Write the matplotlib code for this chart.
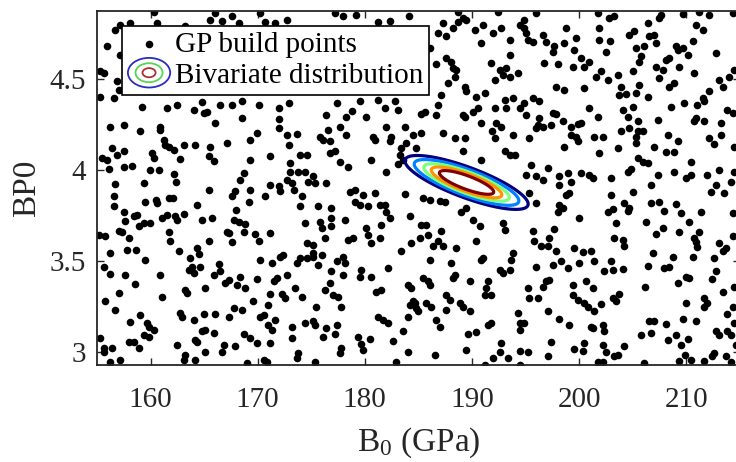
import numpy as np
import matplotlib
matplotlib.use("Agg")
import matplotlib.pyplot as plt
from matplotlib.legend_handler import HandlerBase
from matplotlib.patches import Ellipse
from matplotlib.ticker import FuncFormatter

plt.rcParams["font.family"] = ["Liberation Serif", "DejaVu Serif"]
plt.rcParams["mathtext.fontset"] = "custom"
plt.rcParams["mathtext.rm"] = "Liberation Serif"

# GP build points (B0 in GPa, BP0)
pts_top_left = [
    (160.29, 4.872), (166.04, 4.863), (167.59, 4.845), (170.24, 4.863), (165.57, 4.826),
    (166.66, 4.821), (168.22, 4.808), (170.70, 4.817), (171.64, 4.808), (172.72, 4.826),
    (157.18, 4.799), (158.11, 4.808), (160.60, 4.808), (163.24, 4.790), (156.71, 4.771),
    (155.93, 4.680), (157.18, 4.634), (155.31, 4.543), (155.62, 4.533), (156.87, 4.488),
    (157.02, 4.442), (155.31, 4.405), (156.55, 4.396), (159.20, 4.350), (161.53, 4.341),
    (162.46, 4.356), (164.02, 4.332), (164.79, 4.374), (164.95, 4.314), (165.26, 4.319),
    (166.50, 4.359), (167.59, 4.356), (168.53, 4.378), (170.08, 4.359), (171.95, 4.341),
    (172.88, 4.368), (156.24, 4.240), (157.49, 4.249), (160.91, 4.240), (160.91, 4.220),
    (159.04, 4.213), (166.04, 4.259), (168.53, 4.286), (169.93, 4.204), (171.95, 4.282),
    (171.95, 4.231), (172.72, 4.195), (173.66, 4.198), (161.22, 4.167), (161.37, 4.140),
    (161.69, 4.130), (162.15, 4.112), (163.08, 4.136), (164.17, 4.140), (165.57, 4.125),
    (167.13, 4.149), (169.30, 4.167), (172.88, 4.140), (156.40, 4.121), (156.87, 4.085),
    (157.49, 4.103), (155.47, 4.066), (155.93, 4.057), (160.13, 4.094), (160.29, 4.066),
    (162.77, 4.063), (165.42, 4.081), (165.88, 4.052), (169.30, 4.057), (171.17, 4.081),
    (173.91, 4.085), (174.65, 4.085), (156.09, 4.008), (157.49, 4.020), (158.26, 4.026),
    (159.98, 3.999), (160.81, 3.999), (162.21, 3.978), (162.37, 3.938), (168.68, 3.984),
    (168.37, 3.947), (173.03, 4.039), (173.03, 3.993), (173.72, 3.993), (174.43, 3.989),
    (156.71, 3.925), (159.35, 3.929), (171.17, 3.920), (171.95, 3.916), (172.72, 3.947),
    (173.19, 3.929), (174.74, 3.934),
]

pts_top_mid = [
    (177.20, 4.863), (177.98, 4.845), (179.22, 4.854), (181.24, 4.817), (182.33, 4.821),
    (184.14, 4.845), (188.71, 4.872), (188.71, 4.817), (189.17, 4.836), (189.48, 4.826),
    (191.04, 4.799), (192.44, 4.872), (187.31, 4.808), (186.84, 4.753), (187.62, 4.735),
    (188.24, 4.781), (190.26, 4.771), (191.97, 4.753), (192.75, 4.781), (193.53, 4.716),
    (194.46, 4.799), (186.06, 4.671), (190.88, 4.698), (193.53, 4.634), (191.82, 4.588),
    (187.62, 4.616), (188.09, 4.597), (186.69, 4.583), (188.24, 4.561), (188.55, 4.552),
    (192.59, 4.552), (192.91, 4.524), (193.53, 4.515), (193.22, 4.561), (194.30, 4.533),
    (188.40, 4.515), (192.13, 4.497), (187.77, 4.478), (189.33, 4.460), (189.48, 4.433),
    (190.42, 4.405), (191.19, 4.423), (187.15, 4.411), (186.84, 4.359), (193.06, 4.387),
    (193.84, 4.396), (177.36, 4.369), (179.53, 4.378), (181.24, 4.387), (182.80, 4.378),
    (176.42, 4.304), (178.29, 4.295), (178.85, 4.326), (180.16, 4.290), (181.87, 4.341),
    (183.11, 4.332), (185.29, 4.308), (185.60, 4.319), (186.69, 4.304), (189.17, 4.304),
    (189.33, 4.290), (190.11, 4.319), (190.57, 4.341), (190.88, 4.259), (192.13, 4.341),
    (192.28, 4.259), (191.91, 4.216), (192.75, 4.240), (193.22, 4.341), (194.46, 4.341),
    (177.67, 4.240), (176.58, 4.222), (175.80, 4.185), (176.11, 4.167), (176.74, 4.158),
    (178.29, 4.195), (180.78, 4.185), (180.93, 4.167), (182.02, 4.240), (182.49, 4.185),
    (182.33, 4.158), (183.73, 4.240), (184.51, 4.195), (185.29, 4.204), (187.31, 4.204),
    (188.40, 4.176), (189.33, 4.176), (192.13, 4.176), (193.84, 4.195), (183.89, 4.149),
    (184.82, 4.121), (183.42, 4.121), (183.27, 4.085), (183.58, 4.057), (176.74, 4.094),
    (177.20, 4.103), (177.67, 4.048), (178.45, 4.020), (180.62, 4.057), (182.02, 3.993),
    (183.11, 4.033), (189.17, 4.103), (190.88, 4.057), (193.06, 4.103), (193.53, 4.085),
    (194.00, 4.085), (175.18, 3.966), (175.34, 3.929), (176.42, 3.929),
]

pts_top_right = [
    (195.98, 4.863), (201.74, 4.863), (202.76, 4.839), (203.29, 4.850), (207.64, 4.854),
    (207.49, 4.836), (209.67, 4.858), (211.22, 4.872), (212.15, 4.854), (214.33, 4.863),
    (194.90, 4.826), (194.90, 4.781), (195.05, 4.753), (195.21, 4.716), (195.67, 4.707),
    (196.61, 4.744), (196.92, 4.707), (198.78, 4.781), (197.69, 4.680), (197.54, 4.652),
    (198.63, 4.698), (199.71, 4.726), (199.56, 4.662), (201.89, 4.781), (201.89, 4.716),
    (202.89, 4.711), (202.51, 4.652), (204.69, 4.744), (205.16, 4.766), (205.31, 4.671),
    (206.56, 4.735), (207.02, 4.744), (207.18, 4.698), (206.09, 4.680), (206.40, 4.808),
    (210.91, 4.799), (211.53, 4.771), (210.60, 4.711), (209.04, 4.680), (209.20, 4.662),
    (209.67, 4.671), (210.13, 4.634), (212.77, 4.643), (196.76, 4.588), (198.00, 4.583),
    (199.40, 4.565), (200.18, 4.616), (200.49, 4.565), (200.96, 4.597), (201.58, 4.515),
    (202.05, 4.546), (202.67, 4.497), (203.60, 4.524), (205.00, 4.546), (205.62, 4.597),
    (205.78, 4.625), (207.18, 4.570), (207.49, 4.509), (207.80, 4.552), (208.11, 4.607),
    (208.42, 4.616), (209.35, 4.565), (210.75, 4.533), (197.85, 4.460), (198.63, 4.442),
    (200.49, 4.451), (203.91, 4.460), (203.76, 4.411), (204.38, 4.418), (205.31, 4.423),
    (205.62, 4.469), (206.40, 4.400), (208.42, 4.460), (208.89, 4.478), (213.09, 4.497),
    (213.40, 4.455), (214.02, 4.515), (214.49, 4.552), (212.15, 4.433), (211.53, 4.396),
    (211.69, 4.378), (211.06, 4.359), (209.82, 4.369), (208.58, 4.350), (195.67, 4.396),
    (196.29, 4.381), (194.90, 4.369), (195.05, 4.304), (196.29, 4.286), (196.14, 4.250),
    (195.98, 4.231), (196.61, 4.240), (197.54, 4.314), (197.85, 4.308), (197.38, 4.249),
    (198.47, 4.268), (199.25, 4.240), (199.87, 4.253), (200.18, 4.259), (200.96, 4.341),
    (201.74, 4.295), (204.07, 4.332), (205.00, 4.350), (204.53, 4.295), (205.47, 4.271),
    (207.33, 4.277), (210.91, 4.286), (210.75, 4.268), (211.69, 4.268), (213.24, 4.259),
    (213.86, 4.332), (214.33, 4.314), (195.36, 4.176), (199.25, 4.195), (199.71, 4.185),
    (199.87, 4.162), (201.43, 4.185), (202.20, 4.180), (203.91, 4.213), (204.69, 4.231),
    (205.47, 4.216), (205.93, 4.216), (205.31, 4.185), (205.31, 4.149), (208.27, 4.195),
    (209.20, 4.158), (212.15, 4.176), (212.62, 4.143), (213.24, 4.195), (214.49, 4.130),
    (198.63, 4.130), (201.89, 4.094), (203.60, 4.121), (207.02, 4.130), (208.11, 4.099),
    (208.89, 4.099), (205.47, 4.066), (205.93, 4.048), (206.40, 4.039), (210.44, 4.048),
    (195.52, 4.030), (197.07, 4.011), (195.05, 3.975), (195.98, 3.969), (196.61, 3.947),
    (198.16, 3.966), (198.94, 3.984), (199.25, 3.938), (200.18, 3.984), (200.96, 3.975),
    (201.27, 3.960), (202.98, 3.956), (204.53, 3.993), (204.85, 4.006), (207.33, 3.975),
    (208.89, 3.989), (209.98, 3.956), (210.44, 3.975), (211.99, 3.975), (213.09, 4.002),
    (214.17, 3.938), (206.71, 3.920), (198.16, 3.920), (212.77, 3.920), (214.49, 3.993),
]

pts_bottom_left = [
    (156.55, 3.856), (156.55, 3.801), (159.51, 3.828), (160.53, 3.837), (160.60, 3.819),
    (161.69, 3.847), (162.09, 3.847), (164.33, 3.810), (165.42, 3.892), (167.59, 3.856),
    (167.90, 3.887), (169.30, 3.892), (169.15, 3.828), (170.70, 3.861), (172.04, 3.887),
    (173.35, 3.892), (174.12, 3.861), (173.97, 3.801), (174.43, 3.709), (157.49, 3.770),
    (157.64, 3.722), (158.42, 3.746), (158.73, 3.755), (158.89, 3.691), (159.35, 3.709),
    (159.98, 3.709), (161.06, 3.737), (161.53, 3.755), (162.31, 3.746), (162.46, 3.728),
    (163.15, 3.759), (164.79, 3.728), (165.73, 3.740), (168.00, 3.782), (167.75, 3.728),
    (168.22, 3.718), (168.84, 3.704), (167.13, 3.663), (167.28, 3.654), (168.68, 3.663),
    (169.77, 3.649), (170.17, 3.612), (171.11, 3.654), (155.16, 3.645), (155.78, 3.636),
    (157.02, 3.667), (157.33, 3.660), (157.95, 3.630), (161.69, 3.658), (161.84, 3.612),
    (165.42, 3.612), (167.59, 3.603), (174.59, 3.599), (157.80, 3.563), (158.67, 3.563),
    (156.24, 3.544), (159.51, 3.508), (162.62, 3.554), (164.33, 3.572), (164.48, 3.539),
    (163.71, 3.517), (163.86, 3.471), (163.55, 3.453), (164.02, 3.434), (164.64, 3.471),
    (155.62, 3.466), (156.24, 3.429), (157.64, 3.422), (158.58, 3.376), (160.91, 3.422),
    (166.35, 3.484), (166.50, 3.444), (165.88, 3.422), (166.97, 3.380), (167.28, 3.398),
    (168.37, 3.411), (168.06, 3.370), (168.84, 3.352), (169.93, 3.403), (170.24, 3.508),
    (171.32, 3.489), (172.10, 3.526), (172.41, 3.535), (173.66, 3.489), (173.97, 3.517),
    (174.59, 3.517), (171.79, 3.407), (171.48, 3.389), (172.72, 3.422), (157.02, 3.325),
    (155.78, 3.282), (156.71, 3.233), (161.06, 3.301), (163.24, 3.343), (163.40, 3.325),
    (165.11, 3.352), (169.61, 3.279), (171.17, 3.319), (171.01, 3.260), (172.26, 3.319),
    (172.57, 3.297), (173.50, 3.352), (174.12, 3.306), (168.53, 3.233), (167.75, 3.242),
    (167.28, 3.196), (166.04, 3.209), (164.95, 3.209), (162.77, 3.215), (162.93, 3.196),
    (164.02, 3.178), (159.04, 3.202), (158.11, 3.165), (159.66, 3.160), (159.82, 3.141),
    (160.29, 3.123), (159.35, 3.096), (159.82, 3.086), (157.95, 3.059), (158.42, 3.059),
    (158.89, 3.022), (155.31, 3.077), (155.62, 3.022), (155.62, 3.004), (156.40, 3.026),
    (162.46, 3.041), (164.17, 3.068), (164.33, 3.059), (164.79, 3.114), (165.11, 3.123),
    (165.88, 3.105), (168.68, 3.100), (169.30, 3.077), (169.93, 3.050), (170.24, 3.196),
    (170.55, 3.202), (171.01, 3.151), (171.32, 3.123), (171.64, 3.178), (171.17, 3.050),
    (173.19, 3.141), (173.19, 3.077), (174.43, 3.160), (166.82, 3.041), (166.66, 3.004),
    (167.90, 3.032), (165.11, 3.004), (163.24, 2.986), (163.08, 2.958), (164.17, 2.958),
    (156.24, 2.949), (157.18, 2.955), (168.99, 2.940), (170.55, 2.958), (170.86, 2.949),
    (173.66, 2.971), (173.81, 2.995),
]

pts_bottom_mid = [
    (178.60, 3.883), (179.07, 3.892), (179.85, 3.865), (180.93, 3.874), (179.07, 3.828),
    (179.53, 3.810), (180.31, 3.801), (181.40, 3.810), (181.87, 3.810), (182.02, 3.773),
    (182.33, 3.740), (183.73, 3.869), (185.44, 3.847), (186.06, 3.837), (187.00, 3.832),
    (187.46, 3.828), (189.02, 3.773), (189.48, 3.792), (190.11, 3.728), (190.73, 3.691),
    (192.91, 3.709), (193.06, 3.673), (175.65, 3.801), (176.89, 3.792), (176.89, 3.737),
    (176.89, 3.691), (175.80, 3.718), (175.96, 3.682), (178.13, 3.728), (180.16, 3.682),
    (180.31, 3.645), (181.56, 3.700), (180.62, 3.599), (181.40, 3.627), (176.27, 3.627),
    (178.45, 3.618), (178.91, 3.627), (184.20, 3.746), (185.29, 3.700), (185.75, 3.700),
    (187.15, 3.667), (185.13, 3.627), (185.91, 3.645), (186.84, 3.609), (187.31, 3.586),
    (186.37, 3.581), (188.55, 3.575), (190.42, 3.609), (184.35, 3.599), (183.42, 3.554),
    (175.18, 3.590), (175.18, 3.544), (175.18, 3.526), (175.96, 3.535), (175.65, 3.480),
    (177.36, 3.499), (177.98, 3.521), (178.13, 3.489), (176.89, 3.444), (177.98, 3.422),
    (179.69, 3.453), (179.53, 3.416), (180.62, 3.411), (182.18, 3.462), (186.06, 3.508),
    (188.09, 3.489), (188.40, 3.425), (188.24, 3.407), (185.44, 3.407), (185.91, 3.389),
    (186.06, 3.367), (184.04, 3.370), (184.35, 3.352), (189.80, 3.389), (191.04, 3.517),
    (190.88, 3.508), (192.59, 3.453), (192.91, 3.434), (193.53, 3.453), (193.84, 3.544),
    (193.68, 3.508), (191.51, 3.389), (191.35, 3.352), (191.19, 3.315), (191.82, 3.315),
    (176.74, 3.380), (176.27, 3.343), (177.05, 3.312), (177.51, 3.306), (181.09, 3.330),
    (181.56, 3.343), (175.43, 3.251), (177.82, 3.246), (184.20, 3.260), (184.66, 3.270),
    (184.82, 3.242), (184.98, 3.224), (184.51, 3.279), (185.75, 3.270), (186.22, 3.251),
    (187.62, 3.315), (187.93, 3.288), (187.62, 3.233), (188.86, 3.270), (189.17, 3.251),
    (189.80, 3.224), (194.30, 3.215), (194.46, 3.160), (181.24, 3.196), (181.71, 3.178),
    (182.18, 3.160), (184.04, 3.196), (186.69, 3.178), (187.00, 3.136), (175.18, 3.169),
    (175.34, 3.151), (176.42, 3.132), (177.36, 3.151), (176.11, 3.086), (177.20, 3.099),
    (183.58, 3.114), (189.64, 3.099), (190.42, 3.110), (191.51, 3.151), (191.82, 3.160),
    (194.46, 3.123), (179.38, 3.086), (180.47, 3.074), (179.69, 3.044), (179.85, 3.013),
    (182.64, 3.063), (177.82, 3.022), (177.67, 2.995), (189.48, 3.013), (184.04, 3.004),
    (186.53, 2.986), (192.75, 3.050), (192.59, 3.004), (191.97, 2.967), (193.37, 2.967),
    (194.46, 3.008), (175.34, 2.949), (182.95, 2.949), (191.19, 2.931), (194.46, 2.931),
]

pts_bottom_right = [
    (195.36, 3.874), (195.98, 3.819), (198.78, 3.865), (199.09, 3.874), (198.16, 3.810),
    (198.00, 3.773), (198.47, 3.792), (200.03, 3.740), (202.98, 3.865), (205.00, 3.880),
    (202.67, 3.770), (203.14, 3.788), (204.22, 3.819), (204.69, 3.792), (204.53, 3.777),
    (206.71, 3.819), (207.49, 3.828), (207.96, 3.777), (209.04, 3.814), (209.51, 3.764),
    (211.38, 3.770), (212.31, 3.880), (213.55, 3.874), (214.33, 3.764), (195.67, 3.667),
    (195.83, 3.609), (196.45, 3.581), (197.23, 3.627), (197.69, 3.678), (197.07, 3.586),
    (197.85, 3.557), (199.56, 3.575), (200.34, 3.553), (201.11, 3.557), (203.45, 3.709),
    (203.29, 3.627), (204.07, 3.618), (204.22, 3.581), (206.25, 3.718), (207.18, 3.649),
    (207.80, 3.685), (209.35, 3.660), (210.29, 3.715), (211.22, 3.660), (210.75, 3.630),
    (210.91, 3.608), (211.06, 3.576), (213.09, 3.599), (213.40, 3.554), (213.71, 3.572),
    (214.33, 3.636), (195.98, 3.466), (197.54, 3.480), (198.32, 3.502), (198.94, 3.462),
    (200.03, 3.489), (201.43, 3.499), (202.36, 3.447), (202.98, 3.502), (203.14, 3.453),
    (204.07, 3.458), (206.40, 3.475), (206.87, 3.544), (207.96, 3.462), (208.42, 3.466),
    (208.73, 3.526), (210.60, 3.526), (212.62, 3.517), (212.77, 3.447), (212.46, 3.403),
    (209.98, 3.416), (210.29, 3.407), (209.20, 3.380), (206.18, 3.361), (214.49, 3.356),
    (195.21, 3.352), (195.36, 3.297), (196.14, 3.297), (196.61, 3.361), (196.92, 3.389),
    (197.23, 3.398), (199.40, 3.370), (201.27, 3.352), (200.65, 3.389), (199.40, 3.315),
    (199.87, 3.288), (200.49, 3.270), (200.80, 3.251), (202.05, 3.264), (201.43, 3.224),
    (203.14, 3.297), (203.45, 3.279), (203.76, 3.319), (197.07, 3.228), (198.16, 3.184),
    (199.09, 3.147), (201.11, 3.141), (201.27, 3.132), (202.20, 3.151), (202.36, 3.118),
    (206.56, 3.169), (207.02, 3.169), (208.11, 3.154), (209.67, 3.184), (210.91, 3.173),
    (209.98, 3.270), (211.69, 3.297), (211.99, 3.270), (211.69, 3.251), (213.40, 3.330),
    (213.86, 3.209), (214.33, 3.246), (214.49, 3.160), (194.90, 3.160), (205.78, 3.092),
    (206.71, 3.105), (208.27, 3.068), (209.04, 3.096), (209.51, 3.041), (210.13, 3.074),
    (212.77, 3.114), (213.09, 3.096), (213.86, 3.114), (214.17, 3.096), (214.64, 3.041),
    (197.38, 3.059), (200.49, 3.050), (200.34, 3.008), (199.56, 3.019), (202.20, 3.041),
    (202.51, 3.004), (203.29, 2.977), (203.60, 2.986), (204.22, 3.032), (195.21, 3.004),
    (197.07, 2.977), (201.74, 2.949), (202.20, 2.945), (206.09, 2.940), (209.35, 2.953),
    (209.91, 2.986), (210.44, 2.958), (211.69, 2.953), (212.46, 2.977), (212.62, 2.995),
    (213.71, 2.977), (214.17, 2.949),
]

# bivariate distribution of (B0, BP0)
b0_mean, bp0_mean = 189.5, 3.933
b0_sd, bp0_sd = 2.68, 0.069
rho = -0.80
contour_levels = [0.10, 0.19, 0.33, 0.47, 0.64]   # fraction of the peak density

x_ticks = [160, 170, 180, 190, 200, 210]
y_ticks = [3, 3.5, 4, 4.5]

KEY_COLORS = ["#2b2bbf", "#55d655", "#b03030"]
KEY_SCALES = [1.0, 0.64, 0.31]


class ContourKey:
    pass


class ContourKeyHandler(HandlerBase):
    def create_artists(self, legend, orig_handle, xdescent, ydescent,
                       width, height, fontsize, trans):
        cx = 0.5 * width - xdescent
        cy = 0.5 * height - ydescent
        out = []
        for s, c in zip(KEY_SCALES, KEY_COLORS):
            e = Ellipse((cx, cy), width * s, height * 1.45 * s, fill=False,
                        edgecolor=c, lw=1.3, transform=trans)
            out.append(e)
        return out


pts = np.array(pts_top_left + pts_top_mid + pts_top_right
               + pts_bottom_left + pts_bottom_mid + pts_bottom_right)

fig = plt.figure(figsize=(7.36, 4.62), dpi=100)
ax = fig.add_axes([0.1318, 0.210, 1.005 - 0.1318, 0.7662])

sc = ax.scatter(pts[:, 0], pts[:, 1], s=30, c="black", linewidths=0, zorder=2)

gx, gy = np.meshgrid(np.linspace(180, 199, 500), np.linspace(3.7, 4.2, 500))
zx = (gx - b0_mean) / b0_sd
zy = (gy - bp0_mean) / bp0_sd
dens = np.exp(-(zx**2 - 2 * rho * zx * zy + zy**2) / (2 * (1 - rho**2)))
level_colors = plt.cm.jet(np.linspace(0, 1, len(contour_levels)))
ax.contour(gx, gy, dens, levels=contour_levels, colors=level_colors,
           linewidths=2.3, zorder=3)

ax.set_xlim(155, 215)
ax.set_ylim(2.93, 4.875)
ax.set_xticks(x_ticks)
ax.set_yticks(y_ticks)
ax.yaxis.set_major_formatter(FuncFormatter(lambda v, p: f"{v:g}"))
ax.tick_params(direction="in", top=True, right=True, length=5, width=1,
               labelsize=21, colors="#262626")
ax.tick_params(axis="x", pad=16)
ax.tick_params(axis="y", pad=8)
for sp in ax.spines.values():
    sp.set_linewidth(1.3)
    sp.set_color("#262626")

ax.set_xlabel(r"$\mathrm{B_0}$ (GPa)", fontsize=24, color="#262626", labelpad=9)
ax.set_ylabel("BP0", fontsize=24, color="#262626", labelpad=5)

leg = ax.legend([sc, ContourKey()], ["GP build points", "Bivariate distribution"],
                handler_map={ContourKey: ContourKeyHandler()},
                loc="upper left", bbox_to_anchor=(0.039, 0.958), borderaxespad=0,
                fontsize=21, frameon=True, fancybox=False, framealpha=1,
                edgecolor="black", handlelength=1.45, handletextpad=0.15,
                borderpad=0.2, labelspacing=0.15, scatterpoints=1)
leg.get_frame().set_linewidth(1.2)
leg.set_zorder(5)

fig.savefig("out.png", dpi=100)
